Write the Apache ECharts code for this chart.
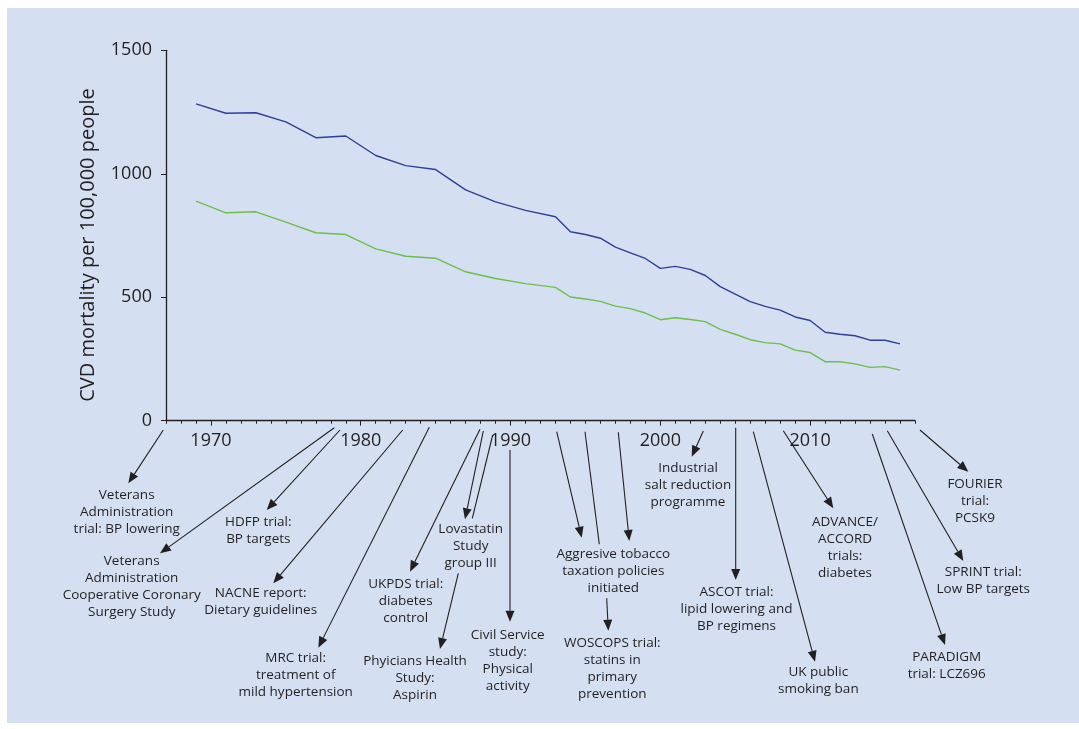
<!DOCTYPE html>
<html>
<head>
<meta charset="utf-8">
<script src="https://cdn.jsdelivr.net/npm/echarts@6/dist/echarts.min.js"></script>
<style>
  html, body { margin: 0; padding: 0; background: #ffffff; }
  #chart { width: 1079px; height: 729px; }
</style>
</head>
<body>
<div id="chart"></div>
<script>
// Years with observations (two-yearly until 1993, yearly afterwards)
const years = [1969, 1971, 1973, 1975, 1977, 1979, 1981, 1983, 1985, 1987, 1989, 1991, 1993,
  1994, 1995, 1996, 1997, 1998, 1999, 2000, 2001, 2002, 2003, 2004, 2005,
  2006, 2007, 2008, 2009, 2010, 2011, 2012, 2013, 2014, 2015, 2016];

// CVD mortality per 100,000 people
const mortalityHigh = [1283, 1245, 1247, 1210, 1146, 1153, 1074, 1033, 1017, 935, 886, 852, 826,
  765, 754, 739, 703, 680, 657, 617, 625, 613, 588, 543, 513,
  482, 463, 448, 420, 406, 358, 350, 344, 326, 326, 311];
const mortalityLow = [889, 842, 846, 804, 761, 754, 696, 666, 658, 603, 576, 555, 540,
  501, 493, 483, 464, 454, 436, 409, 417, 410, 401, 370, 350,
  328, 316, 311, 286, 276, 239, 239, 230, 216, 219, 205];

const yTicks = [0, 500, 1000, 1500];
const decadeLabels = [1970, 1980, 1990, 2000, 2010];
const yAxisTitle = 'CVD mortality per 100,000 people';

// Milestone callouts below the time axis: label text plus leader geometry
const milestones = [
  { text: ['Veterans', 'Administration', 'trial: BP lowering'], arrows: [[163.3, 430, 128.3, 483.3]], lx: 126.7, ly: 495 },
  { text: ['Veterans', 'Administration', 'Cooperative Coronary', 'Surgery Study'], arrows: [[334.3, 427.7, 160, 553.3]], lx: 131.7, ly: 560.7 },
  { text: ['HDFP trial:', 'BP targets'], arrows: [[340, 430, 266.7, 510]], lx: 258.3, ly: 521.7 },
  { text: ['NACNE report:', 'Dietary guidelines'], arrows: [[402.7, 430, 273.3, 583.3]], lx: 260.7, ly: 593.3 },
  { text: ['MRC trial:', 'treatment of', 'mild hypertension'], arrows: [[429.3, 427.3, 318.3, 647.7]], lx: 295.7, ly: 658.3 },
  { text: ['UKPDS trial:', 'diabetes', 'control'], arrows: [[480, 429.3, 410, 571.7]], lx: 405.7, ly: 584.3 },
  { text: ['Lovastatin', 'Study', 'group III'], arrows: [[483.3, 431, 465, 519.3]], lx: 470.7, ly: 529.3 },
  { text: ['Phyicians Health', 'Study:', 'Aspirin'], leads: [[492.7, 435, 472.3, 518.3]], arrows: [[458.3, 573.3, 440, 649]], lx: 415, ly: 661 },
  { text: ['Civil Service', 'study:', 'Physical', 'activity'], arrows: [[510, 450, 510, 621.7]], lx: 507.7, ly: 635 },
  { text: ['Aggresive tobacco', 'taxation policies', 'initiated'], leads: [[585, 431.7, 599.3, 544.3]],
    arrows: [[556.7, 431.7, 581.7, 537.7], [618.3, 432.3, 629.3, 541]], lx: 613.3, ly: 554.3 },
  { text: ['WOSCOPS trial:', 'statins in', 'primary', 'prevention'], arrows: [[606.7, 598.3, 608.3, 630.7]], lx: 612.3, ly: 643.3 },
  { text: ['Industrial', 'salt reduction', 'programme'], arrows: [[703.3, 431, 691.7, 456.7]], lx: 688, ly: 468.3 },
  { text: ['ASCOT trial:', 'lipid lowering and', 'BP regimens'], arrows: [[735.7, 427.7, 735.7, 580]], lx: 736.5, ly: 591.7 },
  { text: ['UK public', 'smoking ban'], arrows: [[753.3, 431.7, 815, 661.7]], lx: 818.3, ly: 672.3 },
  { text: ['ADVANCE/', 'ACCORD', 'trials:', 'diabetes'], arrows: [[783.3, 430.7, 833.3, 508.3]], lx: 845, ly: 522.3 },
  { text: ['PARADIGM', 'trial: LCZ696'], arrows: [[872.3, 434, 945, 645]], lx: 946.7, ly: 656.7 },
  { text: ['SPRINT trial:', 'Low BP targets'], arrows: [[887.3, 430.7, 963.3, 561]], lx: 983.3, ly: 571.7 },
  { text: ['FOURIER', 'trial:', 'PCSK9'], arrows: [[920, 430, 968.3, 471.7]], lx: 975, ly: 484 }
];

const INK = '#231f20';
const FONT = '"Open Sans", "Noto Sans", sans-serif';
const LINE_H = 17;

function pair(xs, ys) { return xs.map((x, i) => [x, ys[i]]); }

function arrowElements(seg, withHead) {
  const [x1, y1, x2, y2] = seg;
  const els = [];
  const dx = x2 - x1, dy = y2 - y1;
  const len = Math.hypot(dx, dy);
  const ux = dx / len, uy = dy / len;
  const headLen = withHead ? 11 : 0, headHalf = 4.5;
  const bx = x2 - ux * headLen, by = y2 - uy * headLen;
  els.push({
    type: 'line', silent: true, z: 10,
    shape: { x1: x1, y1: y1, x2: withHead ? bx : x2, y2: withHead ? by : y2 },
    style: { stroke: INK, lineWidth: 1.1 }
  });
  if (withHead) {
    els.push({
      type: 'polygon', silent: true, z: 10,
      shape: { points: [[x2, y2], [bx - uy * headHalf, by + ux * headHalf], [bx + uy * headHalf, by - ux * headHalf]] },
      style: { fill: INK }
    });
  }
  return els;
}

const graphics = [
  { type: 'rect', z: -10, silent: true, shape: { x: 7, y: 8, width: 1072, height: 715 }, style: { fill: '#d4e0f1' } },
  {
    type: 'text', silent: true, z: 5, x: 88, y: 245, rotation: Math.PI / 2,
    style: { text: yAxisTitle, fill: INK, font: '20px ' + FONT, textAlign: 'center', textVerticalAlign: 'middle' }
  }
];
milestones.forEach(m => {
  (m.leads || []).forEach(s => graphics.push(...arrowElements(s, false)));
  (m.arrows || []).forEach(s => graphics.push(...arrowElements(s, true)));
  graphics.push({
    type: 'text', silent: true, z: 11, x: m.lx, y: m.ly - LINE_H / 2,
    style: { text: m.text.join('\n'), fill: INK, font: '13.5px ' + FONT, lineHeight: LINE_H, textAlign: 'center', textVerticalAlign: 'top' }
  });
});

const chart = echarts.init(document.getElementById('chart'), null, { renderer: 'canvas' });
chart.setOption({
  backgroundColor: '#ffffff',
  animation: false,
  grid: { left: 166, right: 164, top: 50.3, bottom: 308.3, containLabel: false },
  xAxis: [
    {
      type: 'value', min: 1967, max: 2017, interval: 1,
      axisLine: { lineStyle: { color: INK, width: 1.3 } },
      axisTick: { length: 3, lineStyle: { color: INK, width: 1 } },
      splitLine: { show: false },
      axisLabel: {
        color: INK, fontFamily: FONT, fontSize: 18, margin: 11,
        formatter: v => (decadeLabels.indexOf(v) >= 0 ? String(v) : '')
      }
    },
    {
      type: 'value', min: 1967, max: 2017, position: 'bottom',
      axisLine: { show: false },
      axisTick: { length: 5, customValues: decadeLabels, lineStyle: { color: INK, width: 1 } },
      axisLabel: { show: false },
      splitLine: { show: false }
    }
  ],
  yAxis: {
    type: 'value', min: 0, max: 1500, interval: 500,
    axisLine: { show: true, lineStyle: { color: INK, width: 1.3 } },
    axisTick: { show: true, length: 5, lineStyle: { color: INK, width: 1 } },
    splitLine: { show: false },
    axisLabel: {
      color: INK, fontFamily: FONT, fontSize: 18, margin: 14,
      formatter: v => (yTicks.indexOf(v) >= 0 ? String(v) : '')
    }
  },
  series: [
    {
      type: 'line', data: pair(years, mortalityHigh), showSymbol: false,
      lineStyle: { color: '#2f3f98', width: 1.4 }, z: 3
    },
    {
      type: 'line', data: pair(years, mortalityLow), showSymbol: false,
      lineStyle: { color: '#6cbf4a', width: 1.4 }, z: 3
    }
  ],
  graphic: graphics
});
</script>
</body>
</html>
